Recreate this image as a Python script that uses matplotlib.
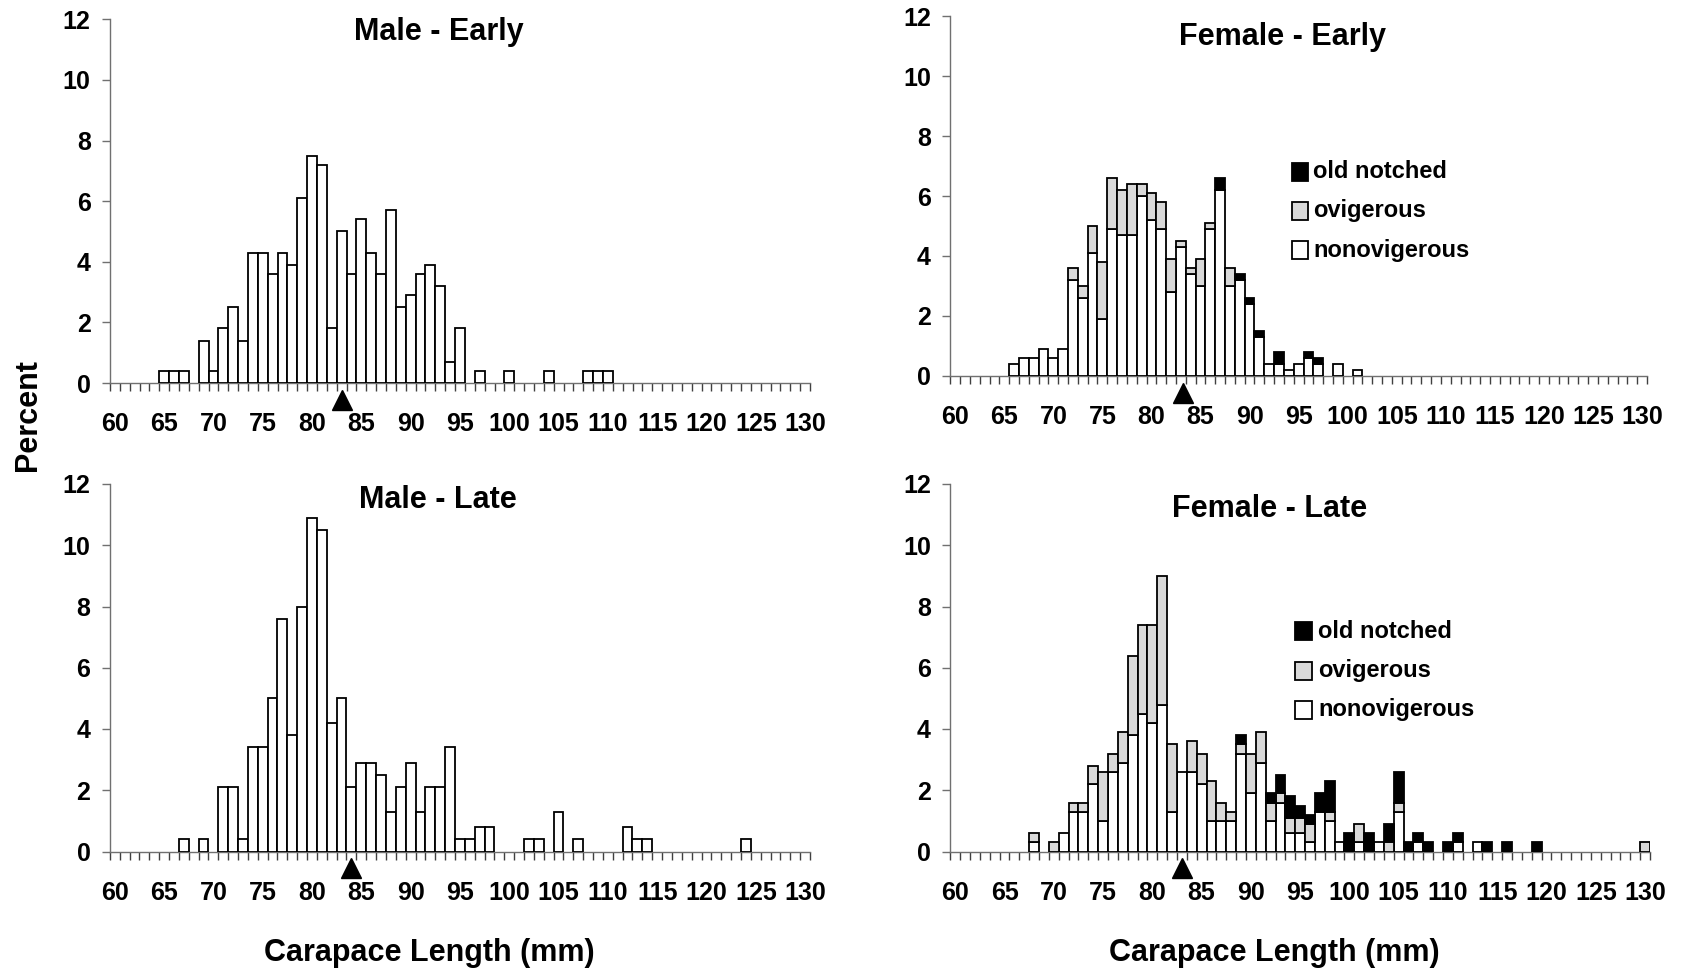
import matplotlib

matplotlib.use("Agg")
import matplotlib.pyplot as plt
import numpy as np
from matplotlib.patches import Rectangle
from matplotlib.transforms import ScaledTranslation

plt.rcParams["font.family"] = ["Liberation Sans", "DejaVu Sans"]
plt.rcParams["font.weight"] = "bold"

W, H = 1683, 975

# Size-frequency data, percent of catch by 1-mm carapace length class.
male_early_cl = [65, 66, 67, 69, 70, 71, 72, 73, 74, 75, 76, 77, 78, 79, 80, 81,
                 82, 83, 84, 85, 86, 87, 88, 89, 90, 91, 92, 93, 94, 95, 97, 100,
                 104, 108, 109, 110]
male_early_pct = [0.4, 0.4, 0.4, 1.4, 0.4, 1.8, 2.5, 1.4, 4.3, 4.3, 3.6, 4.3, 3.9,
                  6.1, 7.5, 7.2, 1.8, 5.0, 3.6, 5.4, 4.3, 3.6, 5.7, 2.5, 2.9, 3.6,
                  3.9, 3.2, 0.7, 1.8, 0.4, 0.4, 0.4, 0.4, 0.4, 0.4]

male_late_cl = [67, 69, 71, 72, 73, 74, 75, 76, 77, 78, 79, 80, 81, 82, 83, 84, 85,
                86, 87, 88, 89, 90, 91, 92, 93, 94, 95, 96, 97, 98, 102, 103, 105,
                107, 112, 113, 114, 124]
male_late_pct = [0.4, 0.4, 2.1, 2.1, 0.4, 3.4, 3.4, 5.0, 7.6, 3.8, 8.0, 10.9, 10.5,
                 4.2, 5.0, 2.1, 2.9, 2.9, 2.5, 1.3, 2.1, 2.9, 1.3, 2.1, 2.1, 3.4,
                 0.4, 0.4, 0.8, 0.8, 0.4, 0.4, 1.3, 0.4, 0.8, 0.4, 0.4, 0.4]

female_early_cl = [66, 67, 68, 69, 70, 71, 72, 73, 74, 75, 76, 77, 78, 79, 80, 81,
                   82, 83, 84, 85, 86, 87, 88, 89, 90, 91, 92, 93, 94, 95, 96, 97,
                   99, 101]
female_early_nonovig = [0.4, 0.6, 0.6, 0.9, 0.6, 0.9, 3.2, 2.6, 4.1, 1.9, 4.9, 4.7,
                        4.7, 6.0, 5.2, 4.9, 2.8, 4.3, 3.4, 3.0, 4.9, 6.2, 3.0, 3.2,
                        2.4, 1.3, 0.4, 0.4, 0.2, 0.4, 0.6, 0.4, 0.4, 0.2]
female_early_ovig = [0, 0, 0, 0, 0, 0, 0.4, 0.4, 0.9, 1.9, 1.7, 1.5, 1.7, 0.4, 0.9,
                     0.9, 1.1, 0.2, 0.2, 0.9, 0.2, 0, 0.6, 0, 0, 0, 0, 0, 0, 0, 0,
                     0, 0, 0]
female_early_notched = [0, 0, 0, 0, 0, 0, 0, 0, 0, 0, 0, 0, 0, 0, 0, 0, 0, 0, 0, 0,
                        0, 0.4, 0, 0.2, 0.2, 0.2, 0, 0.4, 0, 0, 0.2, 0.2, 0, 0]

female_late_cl = [68, 70, 71, 72, 73, 74, 75, 76, 77, 78, 79, 80, 81, 82, 83, 84, 85,
                  86, 87, 88, 89, 90, 91, 92, 93, 94, 95, 96, 97, 98, 99, 100, 101,
                  102, 103, 104, 105, 106, 107, 108, 110, 111, 113, 114, 116, 119,
                  130]
female_late_nonovig = [0.3, 0, 0.6, 1.3, 1.3, 2.2, 1.0, 2.6, 2.9, 3.8, 4.5, 4.2, 4.8,
                       1.3, 2.6, 2.6, 2.2, 1.0, 1.0, 1.0, 3.2, 1.9, 2.9, 1.0, 1.6,
                       0.6, 0.6, 0.3, 1.3, 1.0, 0.3, 0, 0.3, 0, 0.3, 0, 1.3, 0, 0.3,
                       0, 0, 0.3, 0.3, 0, 0, 0, 0]
female_late_ovig = [0.3, 0.3, 0, 0.3, 0.3, 0.6, 1.6, 0.6, 1.0, 2.6, 2.9, 3.2, 4.2,
                    2.2, 0, 1.0, 1.0, 1.3, 0.6, 0.3, 0.3, 1.3, 1.0, 0.6, 0.3, 0.5,
                    0.5, 0.6, 0, 0.3, 0, 0, 0.6, 0, 0, 0.3, 0.3, 0, 0, 0, 0, 0, 0,
                    0, 0, 0, 0.3]
female_late_notched = [0, 0, 0, 0, 0, 0, 0, 0, 0, 0, 0, 0, 0, 0, 0, 0, 0, 0, 0, 0,
                       0.3, 0, 0, 0.3, 0.6, 0.7, 0.4, 0.3, 0.6, 1.0, 0, 0.6, 0, 0.6,
                       0, 0.6, 1.0, 0.3, 0.3, 0.3, 0.3, 0.3, 0, 0.3, 0.3, 0.3, 0]

# Mean carapace length shown by the arrow under each panel.
mean_cl = {"male_early": 83.0, "male_late": 84.0,
           "female_early": 83.2, "female_late": 83.0}

NONOVIG_COLOR = "white"
OVIG_COLOR = "#d9d9d9"
NOTCHED_COLOR = "black"
AXIS_GREY = "#707070"


def px_axes(fig, left, top, right, bottom):
    """Axes from a pixel box (origin at top-left of the figure)."""
    return fig.add_axes([left / W, 1 - bottom / H, (right - left) / W, (bottom - top) / H])


def stacked_bars(ax, cl, layers):
    cl = np.asarray(cl, float)
    base = np.zeros(len(cl))
    for vals, color in layers:
        vals = np.asarray(vals, float)
        keep = vals > 0
        ax.bar(cl[keep], vals[keep], width=1.0, bottom=base[keep], color=color,
               edgecolor="black", linewidth=1.3, zorder=3)
        base += vals


def style_axes(ax, mean, drop_px):
    ax.set_xlim(59.5, 130.5)
    ax.set_ylim(0, 12)
    for side in ("top", "right"):
        ax.spines[side].set_visible(False)
    for side in ("left", "bottom"):
        ax.spines[side].set_color(AXIS_GREY)
        ax.spines[side].set_linewidth(1.0)
    ax.set_yticks(np.arange(0, 13, 2))
    ax.tick_params(axis="y", direction="out", length=5.5, width=1.0,
                   color=AXIS_GREY, pad=8.4, labelsize=18)
    ax.set_xticks(np.arange(60, 131, 5))
    ax.set_xticks(np.arange(59.5, 131, 1), minor=True)
    ax.tick_params(axis="x", which="major", length=0, pad=21, labelsize=18)
    ax.tick_params(axis="x", which="minor", direction="out", length=5.8,
                   width=1.0, color="#404040")
    for lab in ax.get_xticklabels() + ax.get_yticklabels():
        lab.set_fontweight("bold")
    shift = ScaledTranslation(0, -drop_px / 100, ax.figure.dpi_scale_trans)
    ax.plot([mean], [0], marker="^", ms=13.7, color="black", linestyle="none",
            clip_on=False, transform=ax.transData + shift, zorder=5)


def legend(fig, x_px, rows_px, text_x_px):
    items = [("old notched", NOTCHED_COLOR), ("ovigerous", OVIG_COLOR),
             ("nonovigerous", NONOVIG_COLOR)]
    for (label, color), yc in zip(items, rows_px):
        fig.add_artist(Rectangle((x_px / W, 1 - (yc + 9) / H), 16.5 / W, 18 / H,
                                 transform=fig.transFigure, facecolor=color,
                                 edgecolor="black", linewidth=1.3))
        fig.text(text_x_px / W, 1 - yc / H, label, fontsize=17, fontweight="bold",
                 ha="left", va="center")


fig = plt.figure(figsize=(W / 100, H / 100), dpi=100)

ax_me = px_axes(fig, 110, 19.3, 810, 383)
ax_fe = px_axes(fig, 950.3, 16.3, 1647, 375.7)
ax_ml = px_axes(fig, 109.8, 484, 810, 851.5)
ax_fl = px_axes(fig, 950.3, 484, 1650, 851.5)

stacked_bars(ax_me, male_early_cl, [(male_early_pct, NONOVIG_COLOR)])
stacked_bars(ax_ml, male_late_cl, [(male_late_pct, NONOVIG_COLOR)])
stacked_bars(ax_fe, female_early_cl, [(female_early_nonovig, NONOVIG_COLOR),
                                      (female_early_ovig, OVIG_COLOR),
                                      (female_early_notched, NOTCHED_COLOR)])
stacked_bars(ax_fl, female_late_cl, [(female_late_nonovig, NONOVIG_COLOR),
                                     (female_late_ovig, OVIG_COLOR),
                                     (female_late_notched, NOTCHED_COLOR)])

style_axes(ax_me, mean_cl["male_early"], 17)
style_axes(ax_fe, mean_cl["female_early"], 17)
style_axes(ax_ml, mean_cl["male_late"], 16)
style_axes(ax_fl, mean_cl["female_late"], 16)

title_kw = dict(fontsize=22, fontweight="bold", ha="center", va="center")
fig.text(439 / W, 1 - 32 / H, "Male - Early", **title_kw)
fig.text(1282.6 / W, 1 - 36.5 / H, "Female - Early", **title_kw)
fig.text(438 / W, 1 - 500 / H, "Male - Late", **title_kw)
fig.text(1269.7 / W, 1 - 508.7 / H, "Female - Late", **title_kw)

fig.text(28.5 / W, 1 - 415.5 / H, "Percent", rotation=90, **title_kw)
fig.text(429 / W, 1 - 953 / H, "Carapace Length (mm)", **title_kw)
fig.text(1274 / W, 1 - 953 / H, "Carapace Length (mm)", **title_kw)

legend(fig, 1291.7, [171.7, 210.8, 250], 1313.3)
legend(fig, 1295.5, [631, 670.8, 709.5], 1318)

fig.savefig("out.png", dpi=100)
